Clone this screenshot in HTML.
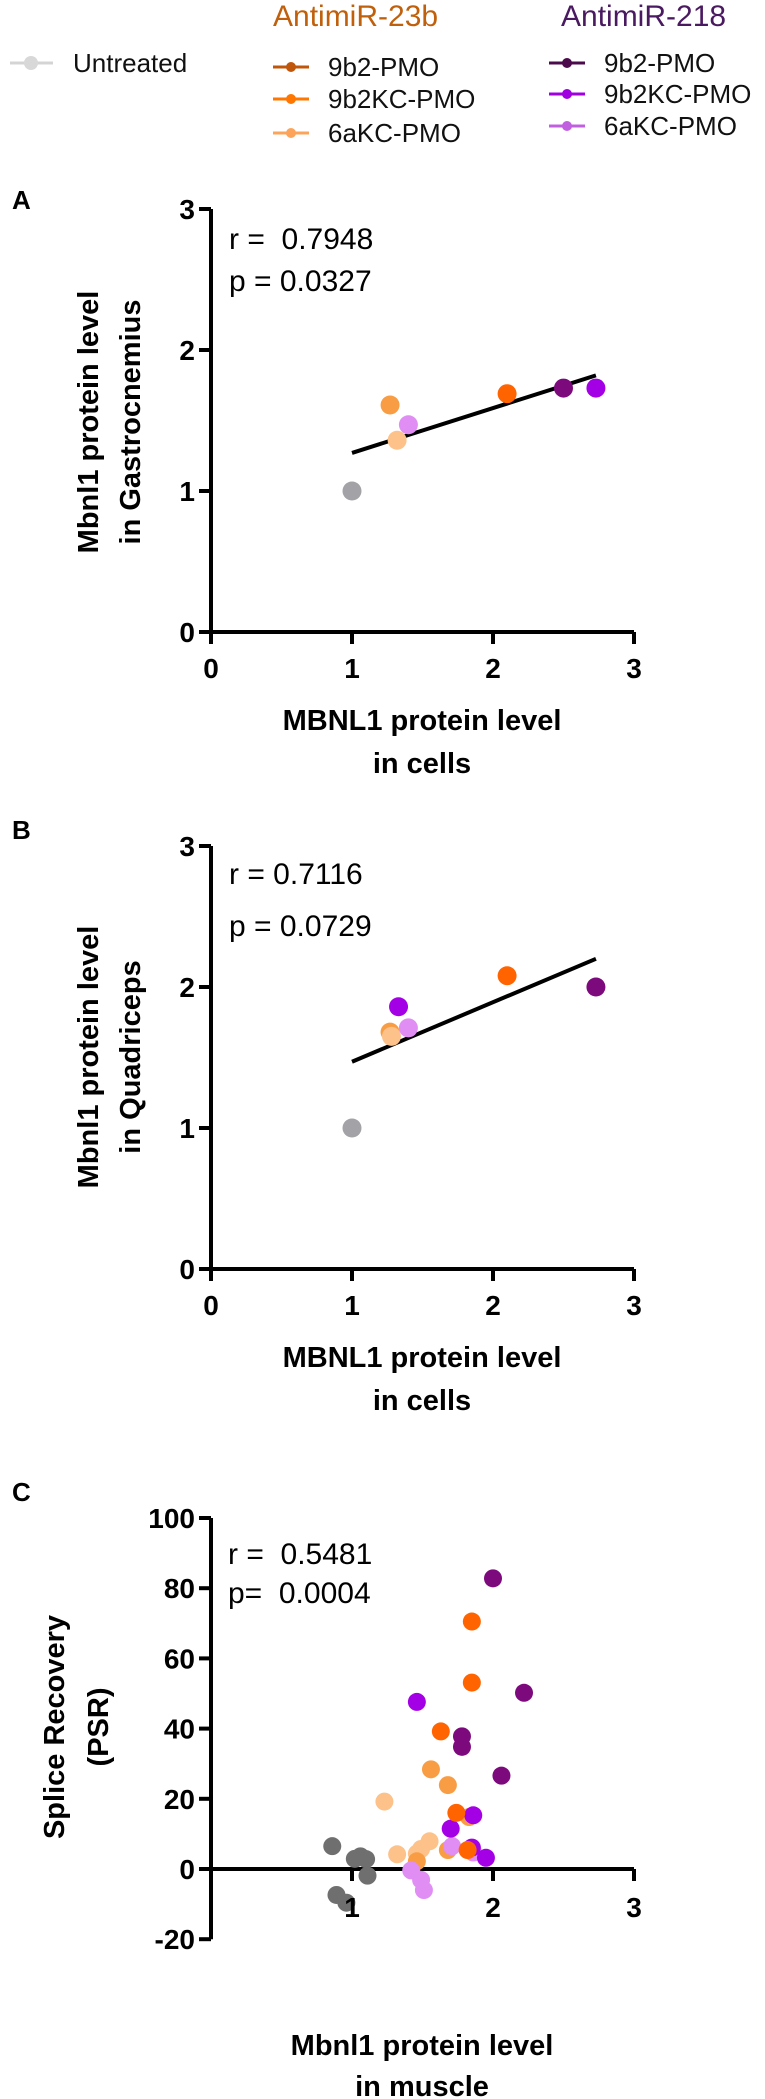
<!DOCTYPE html>
<html><head><meta charset="utf-8"><style>
html,body{margin:0;padding:0;background:#fff;}
body{width:765px;height:2099px;overflow:hidden;}
svg{display:block;font-family:"Liberation Sans",Arial,sans-serif;}
svg text{white-space:pre;}
</style></head><body>
<svg id="fig" width="765" height="2099" viewBox="0 0 765 2099">
<g id="legend"></g>
<g id="panelA"></g>
<g id="panelB"></g>
<g id="panelC"></g>
</svg>
<script>
// Panel A data
const aX = [1.0, 1.27, 1.32, 1.40, 2.10, 2.50, 2.73];
const aY = [1.0, 1.61, 1.36, 1.47, 1.69, 1.73, 1.73];
const aGroup = ["gray","orangeMid","peach","lilac","orange","plum","purple"];
const aFit = [[1.0,1.27],[2.73,1.82]];
// Panel B data
const bX = [1.0, 1.33, 1.27, 1.28, 1.40, 2.10, 2.73];
const bY = [1.0, 1.86, 1.68, 1.65, 1.71, 2.08, 2.0];
const bGroup = ["gray","purple","orangeMid","peach","lilac","orange","plum"];
const bFit = [[1.0,1.47],[2.73,2.2]];
// Panel C data
const cGrayX = [0.86,1.06,1.02,1.10,1.11,0.89,0.96];
const cGrayY = [6.5,3.6,2.9,2.8,-1.9,-7.4,-9.6];
const cPlumX = [2.0,2.22,1.78,1.78,2.06];
const cPlumY = [82.8,50.2,37.8,34.8,26.6];
const cPurpleX = [1.46,1.70,1.86,1.85,1.95];
const cPurpleY = [47.6,11.5,15.3,6.1,3.2];
const cOrangeX = [1.85,1.85,1.63,1.74,1.82];
const cOrangeY = [70.5,53.1,39.2,16.0,5.4];
const cOrangeMidX = [1.56,1.68,1.83,1.68,1.46];
const cOrangeMidY = [28.4,23.9,14.8,5.4,2.2];
const cPeachX = [1.23,1.32,1.55,1.49,1.46];
const cPeachY = [19.2,4.2,7.9,5.7,4.4];
const cLilacX = [1.42,1.49,1.51,1.71,1.86];
const cLilacY = [-0.4,-3.1,-6.0,6.5,4.7];
const abTicks = ["0","1","2","3"];
const cYTicks = ["-20","0","20","40","60","80","100"];
const cXTicks = ["1","2","3"];

const COL = {gray:"#a3a3a7",grayC:"#6f6f6f",plum:"#7d0a7d",purple:"#a400e6",lilac:"#e08df4",orange:"#ff6400",orangeMid:"#f99d45",peach:"#fdc28a"};
const NS="http://www.w3.org/2000/svg";
function mk(parent,tag,attrs,text){const e=document.createElementNS(NS,tag);for(const k in attrs)e.setAttribute(k,attrs[k]);if(text!==undefined)e.textContent=text;parent.appendChild(e);return e;}

// Legend
const lg=document.getElementById('legend');
function legendEntry(x,y,color,label,name,dotR,lineW){
  const g=mk(lg,'g',{});
  
  
  mk(g,'line',{x1:x,y1:y,x2:x+36,y2:y,stroke:color,'stroke-width':lineW});
  mk(g,'circle',{cx:x+18,cy:y,r:dotR,fill:color});
  mk(g,'text',{x:x+55,y:y+9,'font-size':26,fill:'#111'},label);
}
{
  const g=mk(lg,'g',{});
  
  
  mk(g,'line',{x1:10,y1:63,x2:53,y2:63,stroke:'#d4d4d4','stroke-width':3});
  mk(g,'circle',{cx:31,cy:63,r:7,fill:'#d8d8d8'});
  mk(g,'text',{x:73,y:72,'font-size':26,fill:'#111'},'Untreated');
}
const t1=mk(lg,'text',{x:273,y:26,'font-size':30,fill:'#c0600c'},'AntimiR-23b');


const t2=mk(lg,'text',{x:561,y:26,'font-size':30,fill:'#4a1a60'},'AntimiR-218');


legendEntry(273,67,'#c0560a','9b2-PMO','legend-23b-9b2-pmo',5,3);
legendEntry(273,99,'#ff7600','9b2KC-PMO','legend-23b-9b2kc-pmo',5,3);
legendEntry(273,133,'#fca55a','6aKC-PMO','legend-23b-6akc-pmo',5,3);
legendEntry(549,63,'#4b0a4b','9b2-PMO','legend-218-9b2-pmo',5,3);
legendEntry(549,94,'#a000e0','9b2KC-PMO','legend-218-9b2kc-pmo',5,3);
legendEntry(549,126,'#c060e0','6aKC-PMO','legend-218-6akc-pmo',5,3);

function panelAB(gid,letter,letterY,top,xs,ys,groups,fit,rTxt,pTxt,rY,pY,yTitle2,titleCY,xTitleY){
  const g=document.getElementById(gid);
  const x0=211,unit=141,y0=top+423;
  const sx=v=>x0+v*unit, sy=v=>y0-v*unit;
  const L=mk(g,'text',{x:12,y:letterY+9,'font-size':26,'font-weight':'bold'},letter);
  
  
  const ax=mk(g,'path',{d:`M${sx(0)} ${sy(3)}V${y0}H${sx(3)}`,stroke:'#000','stroke-width':4,fill:'none'});
  
  
  abTicks.forEach((t,i)=>{
    mk(g,'line',{x1:x0-12,y1:sy(i),x2:x0,y2:sy(i),stroke:'#000','stroke-width':4});
    mk(g,'line',{x1:sx(i),y1:y0,x2:sx(i),y2:y0+12,stroke:'#000','stroke-width':4});
    const yt=mk(g,'text',{x:x0-16,y:sy(i)+10,'font-size':28,'font-weight':'bold','text-anchor':'end'},t);
    
    
    const xt=mk(g,'text',{x:sx(i),y:y0+46,'font-size':28,'font-weight':'bold','text-anchor':'middle'},t);
    
    
  });
  const fl=mk(g,'line',{x1:sx(fit[0][0]),y1:sy(fit[0][1]),x2:sx(fit[1][0]),y2:sy(fit[1][1]),stroke:'#000','stroke-width':4});
  
  
  xs.forEach((v,i)=>{
    const c=mk(g,'circle',{cx:sx(v),cy:sy(ys[i]),r:9.5,fill:COL[groups[i]]});
    
    
  });
  const r=mk(g,'text',{x:229,y:rY+11,'font-size':30},rTxt);
  
  
  const p=mk(g,'text',{x:229,y:pY+11,'font-size':30},pTxt);
  
  
  const yt=mk(g,'text',{transform:`translate(98 ${titleCY}) rotate(-90)`,'font-size':29,'font-weight':'bold','text-anchor':'middle'},'Mbnl1 protein level');
  
  
  mk(g,'text',{transform:`translate(140 ${titleCY}) rotate(-90)`,'font-size':29,'font-weight':'bold','text-anchor':'middle'},yTitle2);
  const xt=mk(g,'text',{x:422,y:xTitleY+10,'font-size':29,'font-weight':'bold','text-anchor':'middle'},'MBNL1 protein level');
  
  
  mk(g,'text',{x:422,y:xTitleY+53,'font-size':29,'font-weight':'bold','text-anchor':'middle'},'in cells');
}
panelAB('panelA','A',200,209,aX,aY,aGroup,aFit,'r =  0.7948','p = 0.0327',238,280,'in Gastrocnemius',422,720);
panelAB('panelB','B',830,846,bX,bY,bGroup,bFit,'r = 0.7116','p = 0.0729',873,925,'in Quadriceps',1057,1357);

// Panel C
(function(){
  const g=document.getElementById('panelC');
  const x0=211,unit=141,yZero=1869,perUnit=70.2/20;
  const sx=v=>x0+v*unit, sy=v=>yZero-v*perUnit;
  const L=mk(g,'text',{x:12,y:1501,'font-size':26,'font-weight':'bold'},'C');
  
  
  const ya=mk(g,'line',{x1:x0,y1:sy(100),x2:x0,y2:sy(-20),stroke:'#000','stroke-width':4});
  
  
  const xa=mk(g,'line',{x1:x0,y1:yZero,x2:sx(3),y2:yZero,stroke:'#000','stroke-width':4});
  
  
  cYTicks.forEach(t=>{
    const v=+t;
    mk(g,'line',{x1:x0-12,y1:sy(v),x2:x0,y2:sy(v),stroke:'#000','stroke-width':4});
    const e=mk(g,'text',{x:x0-16,y:sy(v)+10,'font-size':28,'font-weight':'bold','text-anchor':'end'},t);
    
    
  });
  cXTicks.forEach(t=>{
    const v=+t;
    mk(g,'line',{x1:sx(v),y1:yZero,x2:sx(v),y2:yZero+12,stroke:'#000','stroke-width':4});
  });
  const series=[[cGrayX,cGrayY,'grayC'],[cPeachX,cPeachY,'peach'],[cOrangeMidX,cOrangeMidY,'orangeMid'],[cLilacX,cLilacY,'lilac'],[cPurpleX,cPurpleY,'purple'],[cOrangeX,cOrangeY,'orange'],[cPlumX,cPlumY,'plum']];
  series.forEach(([xs,ys,c])=>xs.forEach((v,i)=>{
    const e=mk(g,'circle',{cx:sx(v),cy:sy(ys[i]),r:9,fill:COL[c]});
    
    
  }));
  cXTicks.forEach(t=>{
    const e=mk(g,'text',{x:sx(+t),y:1917,'font-size':28,'font-weight':'bold','text-anchor':'middle'},t);
    
    
  });
  const r=mk(g,'text',{x:228,y:1564,'font-size':30},'r =  0.5481');
  
  
  const p=mk(g,'text',{x:228,y:1603,'font-size':30},'p=  0.0004');
  
  
  const yt=mk(g,'text',{transform:'translate(64 1727) rotate(-90)','font-size':29,'font-weight':'bold','text-anchor':'middle'},'Splice Recovery');
  
  
  mk(g,'text',{transform:'translate(108 1727) rotate(-90)','font-size':29,'font-weight':'bold','text-anchor':'middle'},'(PSR)');
  const xt=mk(g,'text',{x:422,y:2055,'font-size':29,'font-weight':'bold','text-anchor':'middle'},'Mbnl1 protein level');
  
  
  mk(g,'text',{x:422,y:2096,'font-size':29,'font-weight':'bold','text-anchor':'middle'},'in muscle');
})();
</script>
</body></html>
